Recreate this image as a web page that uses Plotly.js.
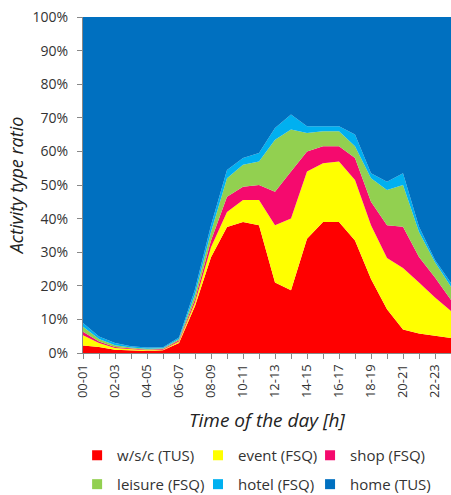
<!DOCTYPE html>
<html>
<head>
<meta charset="utf-8">
<script src="https://cdn.plot.ly/plotly-3.0.1.min.js"></script>
<style>html,body{margin:0;padding:0;background:#fff;}#chart{width:451px;height:495px;}</style>
</head>
<body>
<div id="chart"></div>
<script>
const hours = ["00-01","01-02","02-03","03-04","04-05","05-06","06-07","07-08","08-09","09-10","10-11","11-12",
               "12-13","13-14","14-15","15-16","16-17","17-18","18-19","19-20","20-21","21-22","22-23","23-24"];
const wsc     = [2.2,1.8,1.0,0.8,0.6,0.8,3.0,14.0,28.5,37.5,39.0,38.0,21.0,18.7,34.0,39.0,39.0,33.5,22.0,13.0,7.0,5.8,5.2,4.5];
const eventV  = [3.1,1.2,0.5,0.3,0.2,0.2,0.4,1.0,3.0,4.5,6.5,7.5,17.0,21.3,20.0,17.5,18.0,18.0,16.0,15.3,18.3,15.2,11.3,8.0];
const shop    = [1.0,0.4,0.3,0.2,0.2,0.2,0.4,1.0,2.0,4.5,4.0,4.5,10.0,14.0,6.0,5.0,4.5,6.5,7.0,9.7,12.3,7.6,6.0,3.3];
const leisure = [1.5,0.8,0.5,0.3,0.3,0.2,0.4,1.5,2.5,5.5,6.5,7.0,15.5,12.5,5.5,4.5,4.5,3.5,7.0,10.5,12.4,7.4,4.5,3.9];
const hotel   = [1.1,0.7,0.7,0.4,0.3,0.3,0.4,1.5,2.0,2.5,2.0,2.5,3.5,4.5,2.0,1.5,1.5,3.5,1.5,2.5,3.5,1.6,0.7,1.1];
const home    = [91.1,95.1,97.0,98.0,98.4,98.3,95.4,81.0,62.0,45.5,42.0,40.5,33.0,29.0,32.5,32.5,32.5,35.0,46.5,49.0,46.5,62.4,72.3,79.2];
const seriesNames = ["w/s/c (TUS)","event (FSQ)","shop (FSQ)","leisure (FSQ)","hotel (FSQ)","home (TUS)"];
const seriesColors = ["#FF0000","#FFFF00","#F50A6E","#92D050","#00B0F0","#0070C0"];
const yTicks = [0,10,20,30,40,50,60,70,80,90,100];
const yTickText = yTicks.map(v => v + '%');

const seriesData = [wsc, eventV, shop, leisure, hotel, home];
const traces = [];
seriesData.forEach((vals, i) => {
  traces.push({
    x: hours, y: vals, type: 'scatter', mode: 'lines',
    stackgroup: 'one', line: {width: 0, color: seriesColors[i]},
    fillcolor: seriesColors[i], name: seriesNames[i], showlegend: false,
    hovertemplate: '%{x}: %{y}%<extra>' + seriesNames[i] + '</extra>'
  });
});
const legendIds = ['legend','legend2','legend3','legend4','legend5','legend6'];
seriesNames.forEach((n, i) => {
  traces.push({
    x: [null], y: [null], type: 'scatter', mode: 'markers', name: n,
    legend: legendIds[i],
    marker: {symbol: 'square', size: 10, color: seriesColors[i]}, showlegend: true
  });
});

const tickText = hours.map((h, i) => (i % 2 === 0 ? h : ''));
const font = "'Open Sans', 'DejaVu Sans', sans-serif";
const legendCols = [-0.016, 0.3125, 0.617];
const legendRows = [-0.256, -0.342];
function legendAt(k) {
  return {
    orientation: 'h', x: legendCols[k % 3], xanchor: 'left', y: legendRows[Math.floor(k / 3)], yanchor: 'top',
    font: {size: 15, color: '#333', family: font},
    itemwidth: 30, bgcolor: 'rgba(0,0,0,0)'
  };
}

const layout = {
  width: 451, height: 495,
  margin: {l: 83, r: 0, t: 17, b: 142, autoexpand: false},
  paper_bgcolor: '#fff', plot_bgcolor: '#fff',
  font: {family: font, size: 13, color: '#333'},
  showlegend: true,
  xaxis: {
    type: 'category', categoryorder: 'array', categoryarray: hours,
    range: [0, hours.length - 1],
    tickvals: hours, ticktext: tickText, tickangle: -90,
    ticks: 'outside', ticklen: 5, tickcolor: '#888', tickfont: {size: 13, color: '#333'},
    showline: true, linecolor: '#888', linewidth: 1, showgrid: false, zeroline: false,
    title: {text: '<i>Time of the day [h]</i>', font: {size: 19, color: '#222', family: font}, standoff: 16}
  },
  yaxis: {
    range: [0, 100], tickvals: yTicks, ticktext: yTickText,
    ticks: 'outside', ticklen: 5, tickcolor: '#888', tickfont: {size: 14, color: '#333'},
    ticklabelstandoff: 6,
    showline: true, linecolor: '#888', linewidth: 1, showgrid: false, zeroline: false,
    title: {text: '<i>Activity type ratio</i>', font: {size: 18, color: '#222', family: font}, standoff: 4}
  }
};
legendIds.forEach((id, k) => { layout[id] = legendAt(k); });

Plotly.newPlot('chart', traces, layout, {displayModeBar: false, staticPlot: true});
</script>
</body>
</html>
